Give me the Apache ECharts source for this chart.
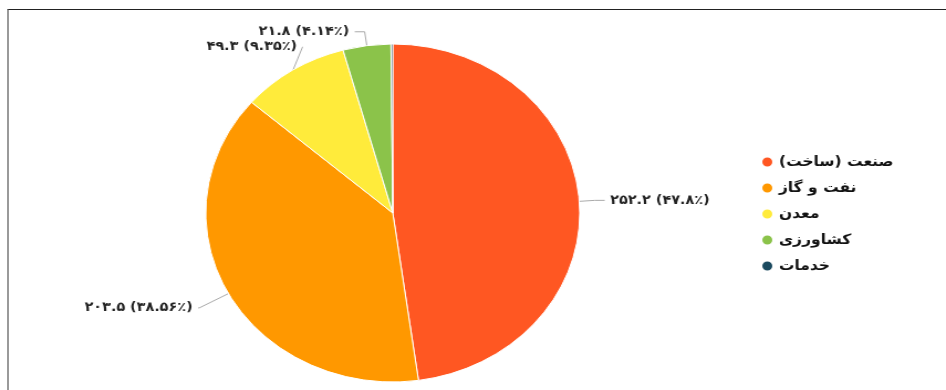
<!DOCTYPE html>
<html>
<head>
<meta charset="utf-8">
<script src="https://cdn.jsdelivr.net/npm/echarts@6/dist/echarts.min.js"></script>
<style>
  html, body { margin: 0; padding: 0; background: #fff; overflow: hidden; }
  .frame {
    position: absolute; left: 7px; top: 9px; width: 939px; height: 381px;
    border-top: 1px solid #222; border-left: 2px solid #9a9a9a;
  }
  /* the reference pie is an ellipse, so the chart is drawn narrower and stretched */
  #chart {
    position: absolute; left: 0; top: 0; width: 855px; height: 390px;
    transform: scaleX(1.1064); transform-origin: 0 0;
  }
</style>
</head>
<body>
<div class="frame"></div>
<div id="chart"></div>
<script>
const sectors = ['صنعت (ساخت)', 'نفت و گاز', 'معدن', 'کشاورزی', 'خدمات']
const values = [252.2, 203.5, 49.3, 21.8, 0.8]
const shares = [47.8, 38.56, 9.35, 4.14, 0.15]
const colors = ['#ff5722', '#ff9800', '#ffeb3b', '#8bc34a', '#1b4a5f']

// label line lengths per slice (radial, horizontal)
const lineLen = [[14, 9], [30, 1], [29, 2], [14, 9], [14, 9]]

const faDigits = '۰۱۲۳۴۵۶۷۸۹'
function fa(n) {
  return String(n).replace(/\d/g, d => faDigits[d])
}

const chart = echarts.init(document.getElementById('chart'))

chart.setOption({
  animation: false,
  color: colors,
  legend: {
    orient: 'vertical',
    left: 682,
    top: 150,
    icon: 'circle',
    itemWidth: 11,
    itemHeight: 11,
    itemGap: 12,
    data: sectors,
    formatter: name => '\u200F' + name + '\u200F',
    textStyle: { color: '#111', fontSize: 14, fontWeight: 'bold', fontFamily: 'DejaVu Sans' }
  },
  series: [{
    type: 'pie',
    center: [355, 213],
    radius: 169,
    startAngle: 90,
    clockwise: true,
    itemStyle: { borderColor: '#fff', borderWidth: 1 },
    label: {
      color: '#222', fontSize: 13, fontWeight: 'bold', fontFamily: 'DejaVu Sans',
      formatter: p => fa(values[p.dataIndex]) + ' (' + fa(shares[p.dataIndex]) + '٪)'
    },
    labelLine: { lineStyle: { color: '#aaa', width: 1 } },
    data: sectors.map((name, i) => ({
      name: name,
      value: values[i],
      label: { show: i < 4 },
      labelLine: { show: i < 4, length: lineLen[i][0], length2: lineLen[i][1] }
    }))
  }]
})
</script>
</body>
</html>
